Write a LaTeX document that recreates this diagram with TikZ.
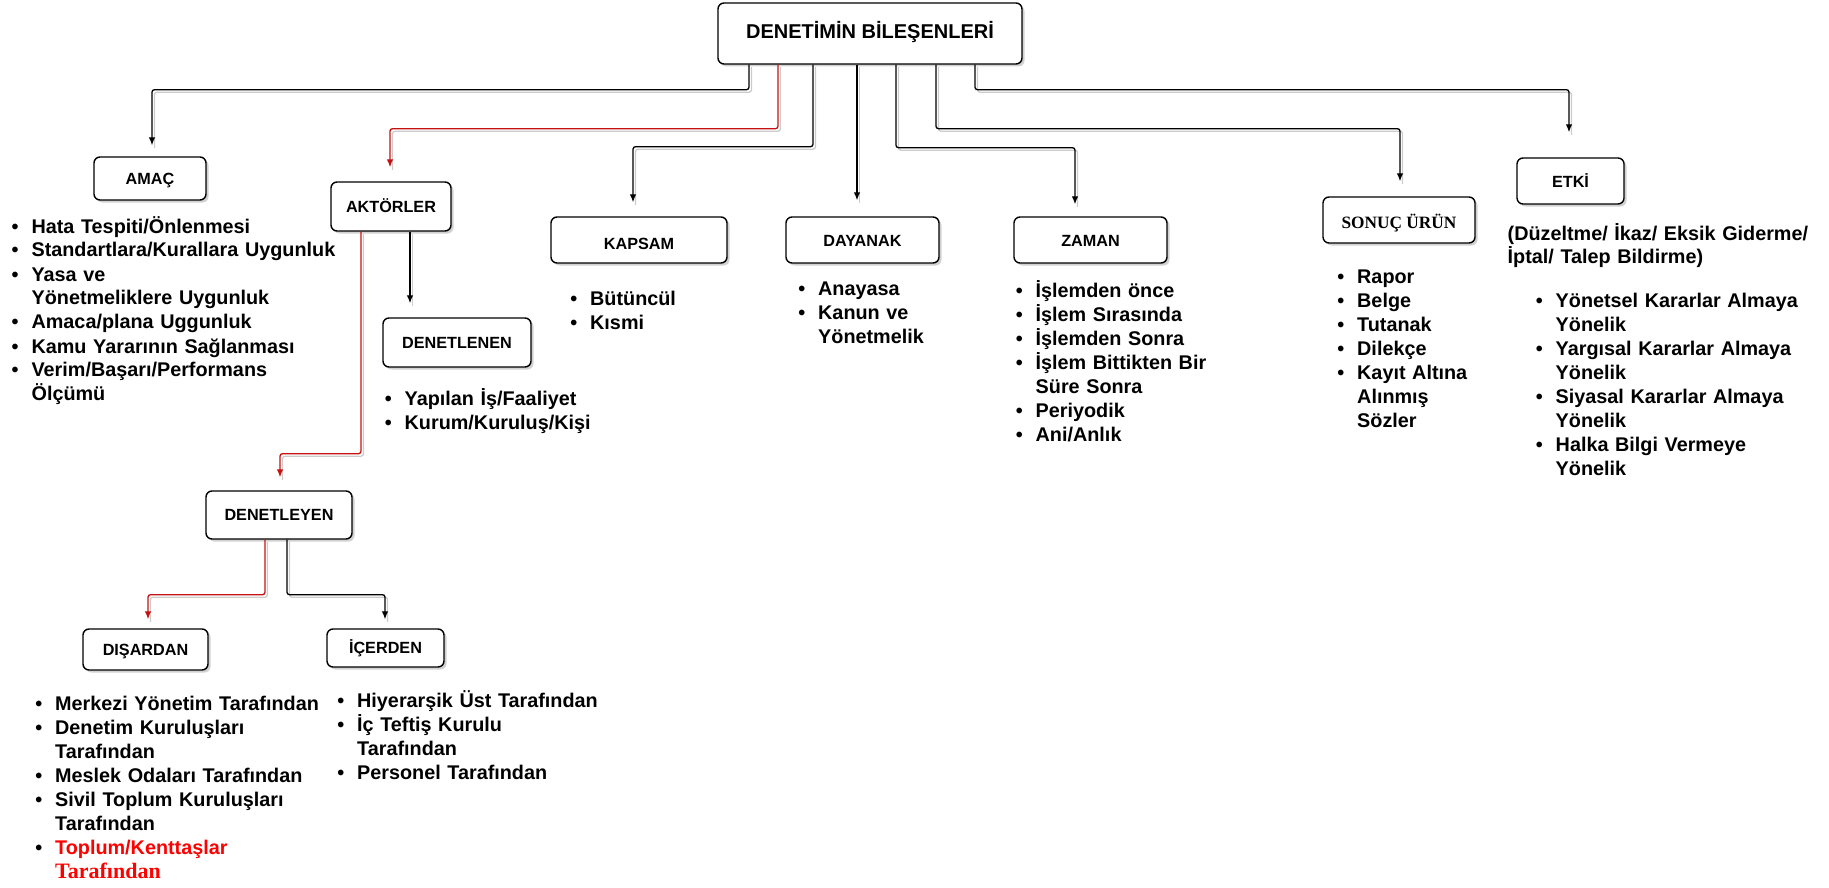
\documentclass[tikz,border=0pt]{standalone}
\usepackage{fontspec}
\setmainfont{Liberation Sans}
\newfontfamily\tnr{Liberation Serif}
\usetikzlibrary{arrows.meta,shadows,calc}
\definecolor{conred}{RGB}{196,18,18}
\definecolor{txtred}{RGB}{255,0,0}
\newcommand\bt{\leavevmode\llap{\textbullet\hspace{13pt}}}
\tikzset{
  box/.style={draw, line width=1.4pt, rounded corners=6pt, fill=white, inner sep=0pt,
    font={\bfseries\fontsize{16.2}{19}\selectfont}, text height=11.6pt, text depth=0pt,
    drop shadow={shadow xshift=2.5pt, shadow yshift=-2.5pt, fill=black, opacity=0.18}},
  conn/.style={line width=1.3pt, rounded corners=2.5pt, -{Latex[length=8pt,width=6.5pt]},
    preaction={draw=black!20, line width=1.3pt, -, transform canvas={shift={(2.5pt,-2.5pt)}}}},
  redconn/.style={conn, draw=conred},
  lst/.style={anchor=base west, inner sep=0pt, text width=420pt, align=left,
    font={\bfseries\fontsize{19.8}{24}\selectfont}},
}
\begin{document}
\begin{tikzpicture}[x=1pt,y=-1pt]
\useasboundingbox (0,0) rectangle (1829,888);

% boxes
\node[box, font={\bfseries\fontsize{20}{24}\selectfont}, text height=10.7pt,
      minimum width=304pt, minimum height=61pt] (top) at (870,33.5) {DENETİMİN BİLEŞENLERİ};
\node[box, minimum width=112pt, minimum height=43pt] (amac) at (150,178.5) {AMAÇ};
\node[box, minimum width=120pt, minimum height=49pt] (aktorler) at (391,206.5) {AKTÖRLER};
\node[box, minimum width=148pt, minimum height=49pt] (denetlenen) at (457,342.5) {DENETLENEN};
\node[box, minimum width=176pt, minimum height=46pt, text height=18.5pt] (kapsam) at (639,240) {KAPSAM};
\node[box, minimum width=153pt, minimum height=46pt, text height=12.6pt] (dayanak) at (862.5,240) {DAYANAK};
\node[box, minimum width=153pt, minimum height=46pt, text height=12.6pt] (zaman) at (1090.5,240) {ZAMAN};
\node[box, minimum width=152pt, minimum height=46pt, text height=16.2pt,
      font={\tnr\bfseries\fontsize{17.3}{20}\selectfont}] (sonuc) at (1399,220) {SONUÇ ÜRÜN};
\node[box, minimum width=107pt, minimum height=46pt, text height=13pt] (etki) at (1570.5,181) {ETKİ};
\node[box, minimum width=146pt, minimum height=48pt] (denetleyen) at (279,515) {DENETLEYEN};
\node[box, minimum width=125pt, minimum height=41pt] (disardan) at (145.5,649.5) {DIŞARDAN};
\node[box, minimum width=117pt, minimum height=38pt] (icerden) at (385.5,648) {İÇERDEN};

% connectors
\draw[conn] ([xshift=-121pt]top.south) -- ++(0,25) -| ([xshift=2pt,yshift=11pt]amac.north);
\draw[redconn] ([xshift=-92pt]top.south) -- ++(0,64) -| ([xshift=-1pt,yshift=14pt]aktorler.north);
\draw[conn] ([xshift=-57pt]top.south) -- ++(0,82) -| ([xshift=-6pt,yshift=14pt]kapsam.north);
\draw[conn] ([xshift=-13pt]top.south) -- ([xshift=-5.5pt,yshift=16pt]dayanak.north);
\draw[conn] ([xshift=26pt]top.south) -- ++(0,83) -| ([xshift=-15.5pt,yshift=12pt]zaman.north);
\draw[conn] ([xshift=66pt]top.south) -- ++(0,64) -| ([xshift=1pt,yshift=15pt]sonuc.north);
\draw[conn] ([xshift=105pt]top.south) -- ++(0,25) -| ([xshift=-1.5pt,yshift=25pt]etki.north);
\draw[redconn] ([xshift=-30pt]aktorler.south) -- ++(0,222) -| ([xshift=1pt,yshift=13pt]denetleyen.north);
\draw[conn] ([xshift=19pt]aktorler.south) -- ([xshift=-47pt,yshift=14pt]denetlenen.north);
\draw[redconn] ([xshift=-14pt]denetleyen.south) -- ++(0,55) -| ([xshift=2.5pt,yshift=9pt]disardan.north);
\draw[conn] ([xshift=8pt]denetleyen.south) -- ++(0,55) -| ([xshift=-0.5pt,yshift=9pt]icerden.north);

% lists
\node[lst] (amacL) at (31.4,233) {\bt Hata Tespiti/Önlenmesi\\
  \bt Standartlara/Kurallara Uygunluk\\
  \bt Yasa ve\\
  Yönetmeliklere Uygunluk\\
  \bt Amaca/plana Uggunluk\\
  \bt Kamu Yararının Sağlanması\\
  \bt Verim/Başarı/Performans\\
  Ölçümü};
\node[lst] (denetlenenL) at (404.5,405) {\bt Yapılan İş/Faaliyet\\
  \bt Kurum/Kuruluş/Kişi};
\node[lst] (kapsamL) at (590,305) {\bt Bütüncül\\
  \bt Kısmi};
\node[lst] (dayanakL) at (818,295) {\bt Anayasa\\
  \bt Kanun ve\\
  Yönetmelik};
\node[lst] (zamanL) at (1035.5,297) {\bt İşlemden önce\\
  \bt İşlem Sırasında\\
  \bt İşlemden Sonra\\
  \bt İşlem Bittikten Bir\\
  Süre Sonra\\
  \bt Periyodik\\
  \bt Ani/Anlık};
\node[lst] (sonucL) at (1357,283) {\bt Rapor\\
  \bt Belge\\
  \bt Tutanak\\
  \bt Dilekçe\\
  \bt Kayıt Altına\\
  Alınmış\\
  Sözler};
\node[lst, font={\bfseries\fontsize{19.8}{23}\selectfont}] (etkiP) at (1507.5,240) {(Düzeltme/ İkaz/ Eksik Giderme/\\
  İptal/ Talep Bildirme)};
\node[lst] (etkiL) at (1555.5,307) {\bt Yönetsel Kararlar Almaya\\
  Yönelik\\
  \bt Yargısal Kararlar Almaya\\
  Yönelik\\
  \bt Siyasal Kararlar Almaya\\
  Yönelik\\
  \bt Halka Bilgi Vermeye\\
  Yönelik};
\node[lst] (disardanL) at (55,710) {\bt Merkezi Yönetim Tarafından\\
  \bt Denetim Kuruluşları\\
  Tarafından\\
  \bt Meslek Odaları Tarafından\\
  \bt Sivil Toplum Kuruluşları\\
  Tarafından\\
  \bt \textcolor{txtred}{Toplum/Kenttaşlar}\\
  {\color{txtred}\tnr\bfseries\fontsize{22}{24}\selectfont Tarafından}};
\node[lst] (icerdenL) at (357,707) {\bt Hiyerarşik Üst Tarafından\\
  \bt İç Teftiş Kurulu\\
  Tarafından\\
  \bt Personel Tarafından};
\end{tikzpicture}
\end{document}
